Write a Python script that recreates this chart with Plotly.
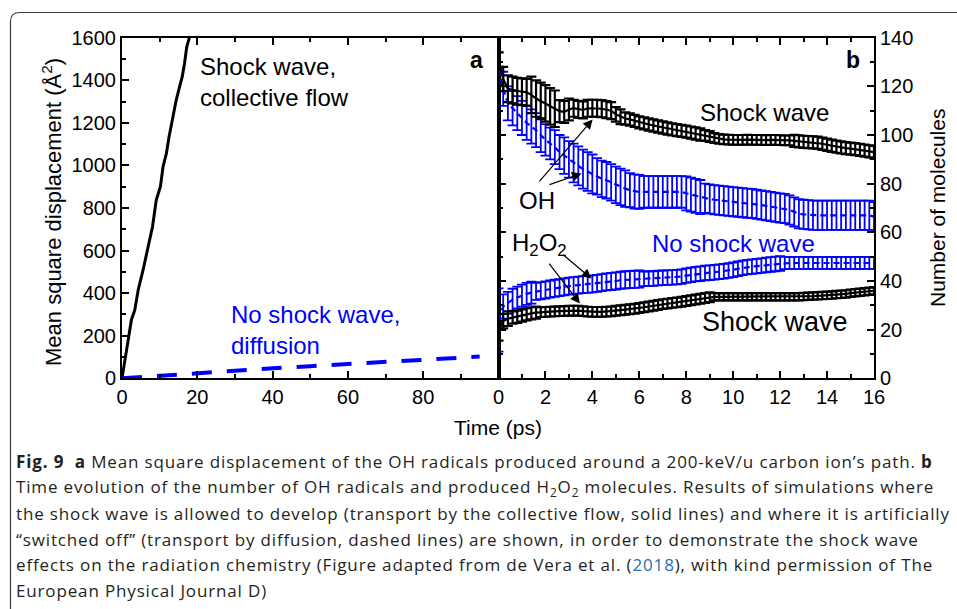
import plotly.graph_objects as go

W, H = 957, 609

# ---------------- panel a data ----------------
msd_t_shock = [0, 0.8, 1.7, 2.5, 3.4, 4.3, 5.6, 6.9, 8.1, 9.1, 10.2, 10.9, 11.8, 12.5, 13.5, 14.4, 15.3, 16.0, 16.6, 17.2, 17.9, 18.6]
msd_shock = [0, 86, 180, 274, 321, 415, 509, 618, 712, 837, 900, 994, 1057, 1135, 1229, 1307, 1370, 1417, 1479, 1557, 1600, 1640]
msd_t_diff = [0, 5, 10, 20, 30, 40, 50, 60, 70, 80, 90, 95]
msd_diff = [0, 6, 12, 26, 37, 47, 57, 67, 76, 86, 95, 102]

# ---------------- panel b data ----------------
t_ps = [round(0.2 * i, 1) for i in range(81)]

oh_shock = [131, 123, 119, 118.5, 118, 117.8, 117.6, 116.5, 115, 114,
            113, 111.8, 110.8, 109.8, 109.5, 110.5, 111, 110.5, 110.3, 111,
            111, 111, 110.8, 110.4, 110, 108.5, 107.5, 106.8, 106.4, 105.8,
            105.2, 104.8, 104.3, 103.9, 103.5, 103.1, 102.7, 102.3, 102, 101.7,
            101.4, 101, 100.6, 100.2, 99.8, 99.4, 98.8, 98.4, 98.2, 98.1,
            98, 98, 98, 98.1, 98, 98, 98, 97.9, 98, 98,
            97.9, 97.8, 97.8, 97.6, 97.4, 97.2, 97.1, 97, 96.8, 96.4,
            96, 95.6, 95.2, 94.9, 94.6, 94.4, 94.2, 93.9, 93.6, 93.3, 93]
oh_shock_err = ([3, 5] + [5.5] * 5 + [7.5] * 6 + [4.5] * 3 + [3.5] * 9 + [3] * 2 + [2.5] * 17
                + [2.2] * 2 + [2] * 17 + [2.5] * 18)

oh_diff = [127, 119, 113, 111, 109, 107, 105, 103.5, 102, 100,
           98, 96.5, 95, 93, 91.5, 90, 88.5, 87.3, 86, 85,
           84, 83, 82, 81.4, 80.5, 79.5, 78.7, 78, 77.3, 76.8,
           76.6, 76.6, 76.6, 76.6, 76.6, 76.6, 76.6, 76.6, 76.6, 76.6,
           76, 75.5, 75, 74.5, 74, 73.7, 73.4, 73.2, 73, 72.8,
           72.6, 72.4, 72.2, 72, 71.9, 71.5, 71.2, 70.9, 70.6, 70.3,
           70, 69.8, 69.2, 68.4, 67.6, 67.4, 67.2, 67, 67, 67,
           67, 67, 67, 67, 67, 67, 67, 67, 67, 67, 66.4]
oh_diff_err = ([7] * 10 + [6.5] * 2 + [7] * 2 + [7.5] * 2 + [8] * 5 + [7.5] * 7 + [7] * 3
               + [6.5] * 9 + [7] * 4 + [6] * 37)

h2o2_shock = [19.5, 23.5, 24.5, 25, 25.3, 25.8, 26.3, 26.7, 27, 27.2,
              27.3, 27.4, 27.5, 27.6, 27.7, 27.8, 27.8, 27.8, 27.6, 27.4,
              27.3, 27.3, 27.3, 27.4, 27.5, 27.8, 28, 28.2, 28.4, 28.6,
              28.9, 29.2, 29.5, 29.8, 30.1, 30.5, 30.7, 31, 31.2, 31.5,
              31.8, 32.1, 32.4, 32.7, 33, 33.3, 33.5, 33.5, 33.5, 33.5,
              33.5, 33.5, 33.5, 33.5, 33.5, 33.5, 33.5, 33.5, 33.5, 33.5,
              33.5, 33.5, 33.5, 33.5, 33.5, 33.6, 33.7, 33.8, 33.9, 34,
              34.1, 34.2, 34.4, 34.5, 34.7, 35, 35.2, 35.4, 35.6, 35.8, 36]
h2o2_shock_err = [4, 3, 3] + [2.5] * 6 + [2] * 37 + [1.5] * 35

h2o2_diff = [24, 29.5, 31, 32.3, 33.2, 34, 34.7, 35.2, 35.7, 36,
             36.3, 36.7, 37, 37.3, 37.6, 37.9, 38.1, 38.3, 38.5, 38.6,
             38.8, 39, 39.3, 39.6, 39.8, 40, 40.3, 40.5, 40.6, 40.7,
             40.8, 40.9, 41, 41, 41.2, 41.3, 41.4, 41.5, 41.6, 41.8,
             42.2, 42.5, 42.8, 43, 43.3, 43.4, 43.6, 43.8, 44, 44.3,
             44.6, 45, 45.4, 45.7, 45.9, 46.1, 46.3, 46.6, 46.8, 47,
             47.2, 47.4, 47.4, 47.4, 47.4, 47.4, 47.4, 47.4, 47.4, 47.4,
             47.4, 47.4, 47.4, 47.4, 47.4, 47.4, 47.4, 47.4, 47.4, 47.4, 47.4]
h2o2_diff_err = [13, 5] + [4.5] * 6 + [3.5] * 23 + [3] * 30 + [2.5] * 20

a_xticks = [0, 20, 40, 60, 80]
a_yticks = [0, 200, 400, 600, 800, 1000, 1200, 1400, 1600]
b_xticks = [0, 2, 4, 6, 8, 10, 12, 14, 16]
b_yticks = [0, 20, 40, 60, 80, 100, 120, 140]

caption_lines = [
    "<b>Fig. 9  a</b> Mean square displacement of the OH radicals produced around a 200-keV/u carbon ion’s path. <b>b</b>",
    "Time evolution of the number of OH radicals and produced H<sub>2</sub>O<sub>2</sub> molecules. Results of simulations where",
    "the shock wave is allowed to develop (transport by the collective flow, solid lines) and where it is artificially",
    "“switched off” (transport by diffusion, dashed lines) are shown, in order to demonstrate the shock wave",
    "effects on the radiation chemistry (Figure adapted from de Vera et al. (<span style='color:#2d6db5'>2018</span>), with kind permission of The",
    "European Physical Journal D)",
]

BLUE = "#0000ff"
FONT = "Liberation Sans, Arial, sans-serif"


def px(x):
    return x / W


def py(y):
    return 1 - y / H


fig = go.Figure()

# panel a
fig.add_trace(go.Scatter(x=msd_t_shock, y=msd_shock, mode="lines", xaxis="x", yaxis="y",
                         line=dict(color="black", width=3), showlegend=False))
fig.add_trace(go.Scatter(x=msd_t_diff, y=msd_diff, mode="lines", xaxis="x", yaxis="y",
                         line=dict(color=BLUE, width=4, dash="20px,15px"), showlegend=False))


# panel b
def band(y, err, color, dash, thick):
    return go.Scatter(x=t_ps, y=y, mode="lines", xaxis="x2", yaxis="y2", showlegend=False,
                      line=dict(color=color, width=2.2, dash=dash),
                      error_y=dict(type="data", array=err, visible=True, color=color,
                                   thickness=thick, width=5))


fig.add_trace(band(oh_diff, oh_diff_err, BLUE, "6px,4px", 1.8))
fig.add_trace(band(h2o2_diff, h2o2_diff_err, BLUE, "6px,4px", 1.8))
fig.add_trace(band(oh_shock, oh_shock_err, "black", "solid", 2.2))
fig.add_trace(band(h2o2_shock, h2o2_shock_err, "black", "solid", 2.2))

dom_y = [py(378.3), py(37.7)]
axis_common = dict(showline=True, linecolor="black", linewidth=2, ticks="inside",
                   tickcolor="black", tickwidth=1.5, ticklen=7, showgrid=False, zeroline=False,
                   tickfont=dict(family=FONT, size=20, color="black"), automargin=False)

fig.update_layout(
    width=W, height=H, margin=dict(l=0, r=0, t=0, b=0),
    paper_bgcolor="white", plot_bgcolor="white",
    xaxis=dict(domain=[px(122), px(498.5)], range=[0, 100], tickvals=a_xticks,
               mirror="ticks", anchor="y",
               minor=dict(ticks="inside", dtick=10, tick0=0, ticklen=4, tickcolor="black"),
               **axis_common),
    yaxis=dict(domain=dom_y, range=[0, 1600], tickvals=a_yticks, mirror=True, anchor="x",
               minor=dict(ticks="inside", dtick=100, tick0=0, ticklen=4, tickcolor="black"),
               **axis_common),
    xaxis2=dict(domain=[px(498.5), px(874)], range=[0, 16], tickvals=b_xticks,
                mirror="ticks", anchor="y2",
                minor=dict(ticks="inside", dtick=1, tick0=0, ticklen=4, tickcolor="black"),
                **axis_common),
    yaxis2=dict(domain=dom_y, range=[0, 140], tickvals=b_yticks, side="right",
                mirror="ticks", anchor="x2",
                minor=dict(ticks="inside", dtick=10, tick0=0, ticklen=4, tickcolor="black"),
                **axis_common),
    font=dict(family=FONT, color="black"),
)

ann = []


def note(text, x, y, xref="paper", yref="paper", size=21, color="black", **kw):
    d = dict(text=text, x=x, y=y, xref=xref, yref=yref, showarrow=False,
             xanchor="center", yanchor="middle", font=dict(size=size, color=color))
    d.update(kw)
    ann.append(d)


# axis titles
note("Time (ps)", px(498), py(427))
note("Mean square displacement (Å<sup>2</sup>)", px(52), py(212), size=22, textangle=-90)
note("Number of molecules", px(937), py(208), textangle=-90)
# panel labels
note("<b>a</b>", px(476), py(60), size=23)
note("<b>b</b>", px(853), py(60), size=23)
# panel a texts
note("Shock wave,<br>collective flow", 20.1, 1392, "x", "y", size=24, xanchor="left", align="left")
note("No shock wave,<br>diffusion", 28.5, 227, "x", "y", size=24, color=BLUE,
     xanchor="left", align="left")
# panel b texts
note("Shock wave", 11.35, 109.4, "x2", "y2", size=24)
note("No shock wave", 10.03, 55.5, "x2", "y2", size=24, color=BLUE)
note("Shock wave", 11.79, 23.2, "x2", "y2", size=27)
note("OH", 1.66, 73.2, "x2", "y2", size=24)
note("H<sub>2</sub>O<sub>2</sub>", 1.76, 55, "x2", "y2", size=24)
# arrows
for (tx, ty, hx, hy) in [(1.69, 80.3, 4.01, 106.4), (2.11, 79.4, 3.54, 84.2),
                         (2.11, 47.8, 3.47, 30.7), (2.69, 51.3, 3.96, 41.0)]:
    ann.append(dict(text="", x=hx, y=hy, ax=tx, ay=ty, xref="x2", yref="y2",
                    axref="x2", ayref="y2", showarrow=True, arrowhead=2, arrowsize=1.6,
                    arrowwidth=1.2, arrowcolor="black"))

# caption
cap_y = [461, 487, 513, 539, 564, 590]
for line, yy in zip(caption_lines, cap_y):
    ann.append(dict(text="<span style='letter-spacing:0.85px'>" + line + "</span>",
                    x=px(14), y=py(yy), xref="paper", yref="paper",
                    xanchor="left", yanchor="middle", showarrow=False, align="left",
                    font=dict(family="Open Sans, sans-serif", size=17, color="#231f20")))

fig.update_layout(annotations=ann)

# rounded frame
r = 9
path = (f"M {px(10.5)},{py(620)} L {px(10.5)},{py(12.5 + r)} "
        f"Q {px(10.5)},{py(12.5)} {px(10.5 + r)},{py(12.5)} L {px(970)},{py(12.5)}")
fig.add_shape(type="path", path=path, xref="paper", yref="paper",
              line=dict(color="#3a3a3a", width=1.2))

fig.write_html("out.html")
